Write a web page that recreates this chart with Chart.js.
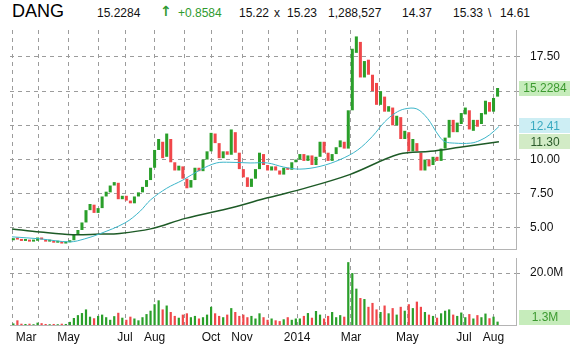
<!DOCTYPE html>
<html>
<head>
<meta charset="utf-8">
<script src="https://cdn.jsdelivr.net/npm/chart.js@4.4.1/dist/chart.umd.min.js"></script>
<style>
    html, body { margin: 0; padding: 0; background: #fff; }
    body { width: 570px; height: 351px; position: relative; overflow: hidden; font-family: "Liberation Sans", Arial, sans-serif; }
    .hd { position: absolute; top: 6px; font-size: 12px; color: #111; white-space: nowrap; }
    .hd.sym { top: 1px; font-size: 18px; color: #000; }
    .hd.up { color: #2f9a2f; }
    .hd.arrow { top: 3px; font-family: "DejaVu Sans", sans-serif; font-weight: bold; font-size: 14px; }
    canvas { position: absolute; left: 0; }
    #price { top: 0; }
    #vol { top: 252px; }
</style>
</head>
<body>
<span class="hd sym" style="left:12px">DANG</span>
<span class="hd" style="left:97px">15.2284</span>
<span class="hd up arrow" style="left:160px">&#8593;</span>
<span class="hd up" style="left:178px">+0.8584</span>
<span class="hd" style="left:239px">15.22</span>
<span class="hd" style="left:274px">x</span>
<span class="hd" style="left:287px">15.23</span>
<span class="hd" style="left:328px">1,288,527</span>
<span class="hd" style="left:402px">14.37</span>
<span class="hd" style="left:453px">15.33</span>
<span class="hd" style="left:488px">\</span>
<span class="hd" style="left:500px">14.61</span>

<canvas id="price" width="570" height="252"></canvas>
<canvas id="vol" width="570" height="99"></canvas>

<script>
(function () {
    'use strict';

    // trading days since 1 Mar 2013, one candle per 3 days
    var binDays = 3;
    var opens = [
        4.10, 4.25, 4.15, 4.05, 4.12, 4.00, 4.06, 4.30, 4.15, 4.00,
        4.06, 3.92, 3.97, 3.86, 3.95, 4.10, 4.50, 4.85, 5.40, 6.30,
        6.70, 6.10, 6.45, 7.30, 7.60, 8.10, 8.30, 7.10, 7.35, 7.00,
        6.80, 7.30, 7.60, 8.00, 8.50, 9.40, 10.70, 11.30, 10.20, 11.50,
        9.80, 9.20, 9.50, 8.60, 7.95, 8.50, 9.40, 9.15, 10.00, 10.60,
        11.90, 11.20, 10.10, 10.60, 10.35, 12.00, 10.50, 9.30, 8.70, 8.00,
        8.60, 9.30, 10.40, 9.60, 9.20, 9.50, 9.20, 8.90, 9.40, 9.25,
        9.80, 10.00, 10.40, 9.90, 10.30, 9.60, 10.20, 11.30, 10.50, 9.90,
        10.40, 10.90, 11.30, 10.80, 13.60, 17.80, 18.60, 16.00, 17.30, 16.20,
        15.60, 14.00, 14.60, 13.50, 13.80, 12.50, 13.10, 11.50, 12.00, 10.60,
        11.20, 10.50, 9.20, 10.00, 9.60, 10.20, 9.90, 10.80, 11.60, 12.90,
        12.00, 12.60, 13.30, 13.60, 12.10, 12.90, 12.60, 13.30, 14.20, 13.50,
        14.60
    ];
    var closes = [
        4.25, 4.15, 4.05, 4.12, 4.00, 4.06, 4.30, 4.15, 4.00, 4.06,
        3.92, 3.97, 3.86, 3.95, 4.10, 4.50, 4.85, 5.40, 6.30, 6.75,
        6.10, 6.45, 7.30, 7.65, 8.10, 8.35, 7.10, 7.35, 7.00, 6.80,
        7.30, 7.60, 8.00, 8.50, 9.40, 10.70, 11.50, 10.10, 11.90, 9.80,
        9.20, 9.55, 8.60, 7.90, 8.50, 9.40, 9.15, 10.00, 10.60, 11.95,
        11.20, 10.10, 10.60, 10.35, 12.20, 10.50, 9.30, 8.70, 8.00, 8.60,
        9.30, 10.50, 9.60, 9.20, 9.50, 9.20, 8.90, 9.40, 9.25, 9.80,
        10.00, 10.40, 9.90, 10.30, 9.60, 10.20, 11.30, 10.50, 9.90, 10.40,
        10.90, 11.40, 10.80, 13.60, 18.10, 19.00, 16.00, 17.20, 16.20, 15.00,
        14.00, 15.00, 13.50, 13.90, 12.50, 13.20, 11.50, 12.10, 10.60, 11.50,
        10.60, 9.20, 10.00, 9.50, 10.20, 9.90, 10.80, 11.60, 12.90, 12.00,
        12.70, 13.40, 13.80, 12.20, 12.90, 12.40, 13.40, 14.30, 13.50, 14.50,
        15.23
    ];
    // millions of shares
    var volumes = [
        0.6, 1.8, 0.5, 0.4, 0.5, 0.3, 0.9, 0.7, 0.4, 0.3,
        0.4, 0.3, 0.5, 0.4, 1.2, 2.7, 3.8, 4.6, 6.0, 3.2,
        2.6, 3.5, 4.0, 3.0, 2.0, 3.4, 4.7, 2.8, 2.0, 3.2,
        2.5, 1.8, 3.0, 4.2, 5.5, 8.0, 9.5, 6.0, 7.5, 5.0,
        3.5, 2.8, 4.0, 4.5, 3.0, 3.5, 2.5, 3.0, 4.0, 7.0,
        4.5, 3.5, 3.0, 4.0, 6.5, 5.0, 3.5, 4.0, 3.0, 3.5,
        2.5, 4.5, 3.0, 2.0, 2.5, 1.8, 1.5, 2.2, 3.0, 2.0,
        2.5, 2.5, 3.5, 4.6, 2.8, 5.4, 4.0, 2.5, 3.5, 5.0,
        3.0, 3.8, 3.2, 24.2, 20.0, 14.0, 10.4, 10.0, 7.0, 8.5,
        6.0, 5.0, 7.5, 4.5, 6.5, 4.0, 7.0, 5.5, 8.0, 6.5,
        9.0, 7.0, 5.0, 4.0, 3.5, 2.8, 4.5, 5.5, 6.0, 4.0,
        3.5, 4.8, 3.0, 4.2, 2.5, 3.8, 3.0, 4.4, 2.6, 3.2,
        1.3
    ];
    // [trading day, value]
    var ma50 = [
        [0, 4.35], [21, 4.2], [43, 3.98], [54, 4.2], [65, 4.56], [84, 5.37],
        [95, 6.2], [103, 7.05], [115, 7.9], [127, 8.5], [140, 9.25], [152, 9.75],
        [162, 9.8], [177, 9.75], [190, 9.75], [202, 9.45], [214, 9.3], [229, 9.5],
        [244, 10.0], [257, 10.7], [268, 11.7], [277, 12.75], [285, 13.4], [292, 13.7],
        [301, 13.7], [309, 13.0], [313, 12.4], [318, 11.65], [322, 11.3], [329, 11.2],
        [341, 11.2], [348, 11.4], [355, 11.8], [362, 12.41]
    ];
    var ma200 = [
        [0, 4.93], [21, 4.7], [45, 4.5], [65, 4.55], [80, 4.6], [103, 4.93],
        [129, 5.7], [164, 6.5], [190, 7.2], [214, 7.8], [251, 8.9], [288, 10.4],
        [311, 10.6], [333, 10.9], [362, 11.3]
    ];

    var monthStarts = [0, 20, 42, 64, 84, 106, 128, 148, 171, 191, 212, 233, 252, 273, 294, 315, 336, 358];
    var monthLabels = ['', '', 'May', '', 'Jul', 'Aug', '', 'Oct', 'Nov', '', '2014', '', 'Mar', '', 'May', '', 'Jul', 'Aug'];
    var firstLabelDay = 10.5;
    var firstLabel = 'Mar';

    var priceTicks = [5, 7.5, 10, 12.5, 15, 17.5];
    var priceTickLabels = ['5.00', '7.50', '10.00', '', '', '17.50'];
    var volTicks = [20];
    var volTickLabels = ['20.0M'];

    var lastClose = 15.2284;
    var lastMa50 = 12.41;
    var lastMa200 = 11.30;
    var lastVolume = 1.288527;

    var GREEN = '#2a9f2a';
    var RED = '#f0474a';
    var GRID = '#9c9c9c';
    var EDGE = '#b4b4b4';
    var X_MIN = -1.5;
    var X_MAX = 374.7;

    Chart.defaults.font.family = '"Liberation Sans", Arial, sans-serif';
    Chart.defaults.font.size = 12;
    Chart.defaults.color = '#111';

    function candleColor(ctx) {
        var i = ctx.dataIndex;
        return closes[i] >= opens[i] ? GREEN : RED;
    }

    function noPadding(s) {
        s.paddingTop = 0;
        s.paddingBottom = 0;
        s.paddingLeft = 0;
        s.paddingRight = 0;
    }

    function xAxis(withLabels) {
        return {
            type: 'linear',
            min: X_MIN,
            max: X_MAX,
            offset: false,
            grid: {
                offset: false,
                drawTicks: false,
                color: function (ctx) {
                    return ctx.tick && ctx.tick.value === firstLabelDay ? 'rgba(0,0,0,0)' : GRID;
                },
            },
            border: { display: true, color: EDGE, dash: [4, 4] },
            ticks: {
                display: withLabels,
                autoSkip: false,
                maxRotation: 0,
                padding: 5,
                color: '#111',
                callback: function (v) {
                    if (v === firstLabelDay) {
                        return firstLabel;
                    }
                    var k = monthStarts.indexOf(v);
                    return k >= 0 ? monthLabels[k] : '';
                },
            },
            afterBuildTicks: function (s) {
                var vals = monthStarts.slice();
                if (withLabels) {
                    vals.splice(1, 0, firstLabelDay);
                }
                s.ticks = vals.map(function (v) { return { value: v }; });
            },
            afterFit: function (s) {
                s.height = withLabels ? 26 : 0;
                noPadding(s);
            },
        };
    }

    function yAxis(min, max, ticks, labels) {
        return {
            position: 'right',
            min: min,
            max: max,
            grid: { color: GRID, tickLength: 4 },
            border: { display: true, color: EDGE, dash: [4, 4] },
            ticks: {
                padding: 10,
                color: '#111',
                callback: function (v) {
                    var k = ticks.indexOf(v);
                    return k >= 0 ? labels[k] : '';
                },
            },
            afterBuildTicks: function (s) {
                s.ticks = ticks.map(function (v) { return { value: v }; });
            },
            afterFit: function (s) {
                s.width = 54;
                noPadding(s);
            },
        };
    }

    // value tags in the right margin
    function tagPlugin(tags) {
        return {
            id: 'tags',
            afterDraw: function (chart) {
                var ctx = chart.ctx;
                var area = chart.chartArea;
                var y = chart.scales.y;
                var placed = tags.map(function (t) {
                    return { t: t, py: y.getPixelForValue(t.value) };
                }).sort(function (a, b) { return a.py - b.py; });
                for (var i = 1; i < placed.length; i++) {
                    if (placed[i].py - placed[i - 1].py < 16) {
                        placed[i - 1].py = placed[i].py - 16;
                    }
                }
                ctx.save();
                ctx.font = '12px "Liberation Sans", Arial, sans-serif';
                ctx.textAlign = 'center';
                ctx.textBaseline = 'middle';
                placed.forEach(function (p) {
                    var cy = Math.min(p.py, area.bottom - 8);
                    ctx.fillStyle = p.t.bg;
                    ctx.fillRect(519, Math.round(cy - 7.5), 51, 15);
                    ctx.fillStyle = p.t.fg;
                    ctx.fillText(p.t.text, 545, Math.round(cy) + 1);
                });
                ctx.restore();
            },
        };
    }

    var common = {
        responsive: false,
        animation: false,
        events: [],
        plugins: { legend: { display: false }, tooltip: { enabled: false } },
    };

    new Chart(document.getElementById('price'), {
        type: 'bar',
        data: {
            datasets: [
                {
                    type: 'line',
                    data: ma50.map(function (p) { return { x: p[0], y: p[1] }; }),
                    borderColor: '#3cb5c9',
                    borderWidth: 1,
                    pointRadius: 0,
                    tension: 0.35,
                    order: 0,
                },
                {
                    type: 'line',
                    data: ma200.map(function (p) { return { x: p[0], y: p[1] }; }),
                    borderColor: '#1d5a26',
                    borderWidth: 1.5,
                    pointRadius: 0,
                    tension: 0.35,
                    order: 0,
                },
                {
                    data: opens.map(function (o, i) { return { x: i * binDays + 1, y: [o, closes[i]] }; }),
                    backgroundColor: candleColor,
                    borderWidth: 0,
                    barPercentage: 0.75,
                    categoryPercentage: 1,
                    minBarLength: 2,
                    order: 1,
                },
            ],
        },
        options: Object.assign({}, common, {
            layout: { padding: { left: 10, top: 30, right: 0, bottom: 3 } },
            scales: {
                x: xAxis(false),
                y: yAxis(3.46, 19.47, priceTicks, priceTickLabels),
            },
        }),
        plugins: [tagPlugin([
            { value: lastClose, text: '15.2284', bg: '#c6ecbb', fg: '#3d9a30' },
            { value: lastMa50, text: '12.41', bg: '#cdeef4', fg: '#39a9c0' },
            { value: lastMa200, text: '11.30', bg: '#d2ebc6', fg: '#2b5a2b' },
        ])],
    });

    new Chart(document.getElementById('vol'), {
        type: 'bar',
        data: {
            datasets: [
                {
                    data: volumes.map(function (v, i) { return { x: i * binDays + 1, y: v }; }),
                    backgroundColor: candleColor,
                    borderWidth: 0,
                    barPercentage: 0.55,
                    categoryPercentage: 1,
                },
            ],
        },
        options: Object.assign({}, common, {
            layout: { padding: { left: 10, top: 6, right: 0, bottom: 0 } },
            scales: {
                x: xAxis(true),
                y: yAxis(0, 25.8, volTicks, volTickLabels),
            },
        }),
        plugins: [tagPlugin([
            { value: lastVolume, text: '1.3M', bg: '#c6ecbb', fg: '#3d9a30' },
        ])],
    });
})();
</script>
</body>
</html>
